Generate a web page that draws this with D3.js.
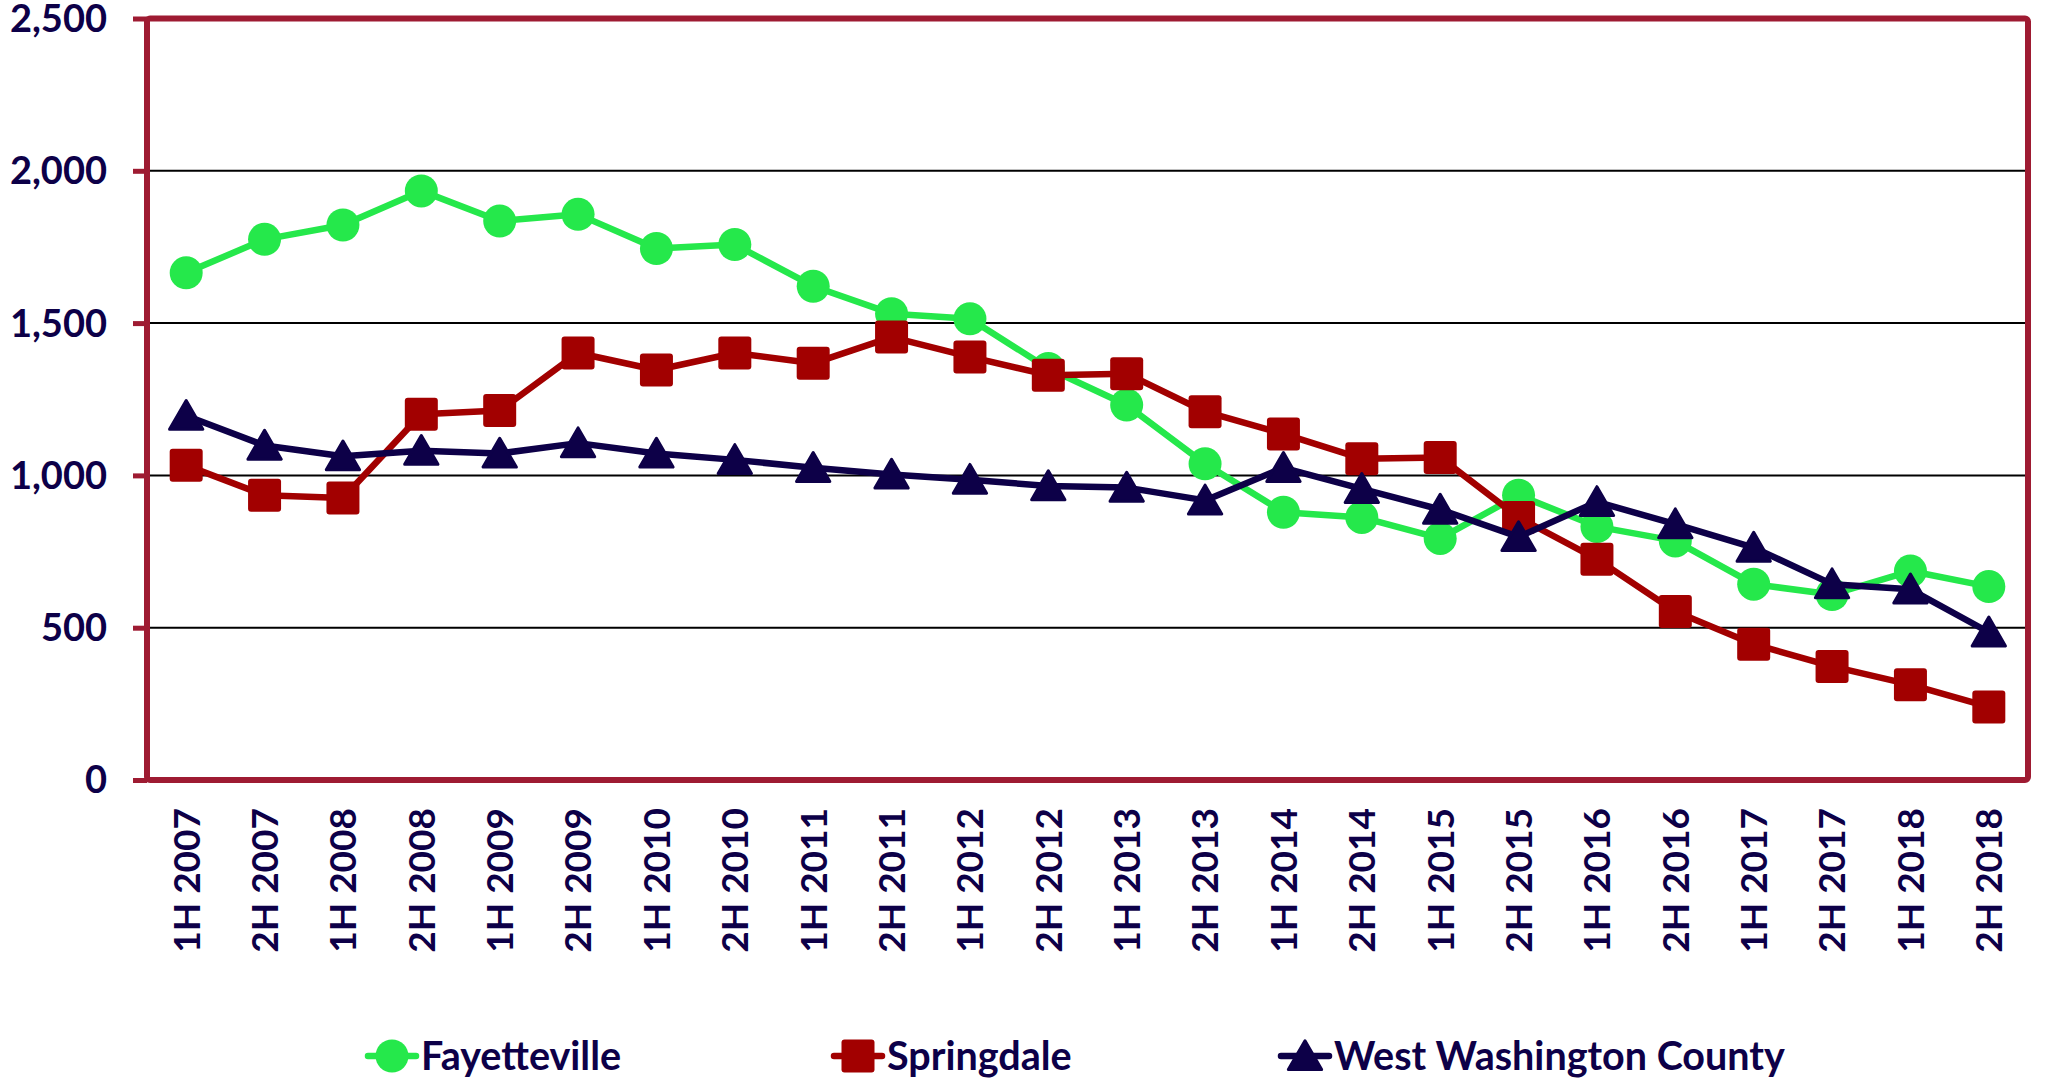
<!DOCTYPE html>
<html>
<head>
<meta charset="utf-8">
<script src="https://cdn.jsdelivr.net/npm/d3@7"></script>
<style>
  body { margin: 0; background: #fff; }
  text { font-family: Lato, "Open Sans", sans-serif; font-weight: 700; fill: #0d0048; }
</style>
</head>
<body>
<svg id="chart" width="2050" height="1088"></svg>
<script>
// half-year periods
var periods = ['1H 2007','2H 2007','1H 2008','2H 2008','1H 2009','2H 2009','1H 2010','2H 2010',
    '1H 2011','2H 2011','1H 2012','2H 2012','1H 2013','2H 2013','1H 2014','2H 2014',
    '1H 2015','2H 2015','1H 2016','2H 2016','1H 2017','2H 2017','1H 2018','2H 2018'];

var fayetteville = [1665,1775,1822,1934,1835,1857,1745,1758,1621,1531,1514,1351,
    1231,1038,879,862,793,935,832,785,643,609,686,635];

var springdale = [1033,935,926,1201,1213,1402,1346,1402,1368,1454,1389,1329,
    1334,1209,1136,1055,1059,862,725,553,446,373,313,240];

var westWashington = [1196,1098,1063,1081,1072,1106,1072,1051,1025,1003,986,965,
    960,918,1025,956,888,798,913,840,763,643,626,485];

var yTicks = [0,500,1000,1500,2000,2500];

var seriesNames = ['Fayetteville','Springdale','West Washington County'];

var svg = d3.select('#chart');

var plotL = 147, plotR = 2028, plotT = 18.5, plotB = 780;
var crimson = '#9e1b32';

var x = d3.scaleBand().domain(periods).range([plotL, plotR]);
var y = d3.scaleLinear().domain([0, 2500]).range([plotB, plotT]);

// gridlines
svg.selectAll('line.grid')
    .data(yTicks.filter(function(t) { return t > 0 && t < 2500; }))
    .enter()
    .append('line')
    .attr('class', 'grid')
    .attr('x1', plotL)
    .attr('x2', plotR)
    .attr('y1', function(d) { return y(d); })
    .attr('y2', function(d) { return y(d); })
    .style('stroke', '#000')
    .style('stroke-width', 2);

// y axis
var yAxis = d3.axisLeft(y)
    .tickValues(yTicks)
    .tickSize(14)
    .tickPadding(26)
    .tickFormat(d3.format(','));

var yg = svg.append('g')
    .attr('transform', 'translate(' + plotL + ',0)')
    .call(yAxis);
yg.select('.domain').remove();
yg.selectAll('.tick line').style('stroke', crimson).style('stroke-width', 5);
yg.selectAll('.tick text')
    .attr('dy', '0.34em')
    .style('font-size', '38px')
    .style('font-family', 'Lato, sans-serif')
    .style('font-weight', 700)
    .style('fill', '#0d0048');

// x labels, rotated
var xAxis = d3.axisBottom(x).tickSize(0).tickPadding(0);
var xg = svg.append('g')
    .attr('transform', 'translate(0,' + plotB + ')')
    .call(xAxis);
xg.select('.domain').remove();
xg.selectAll('.tick text')
    .attr('transform', 'rotate(-90)')
    .attr('x', -28)
    .attr('y', 0)
    .attr('dy', '0.36em')
    .style('text-anchor', 'end')
    .style('font-size', '37px')
    .style('font-family', 'Lato, sans-serif')
    .style('font-weight', 700)
    .style('fill', '#0d0048');

// plot border
svg.append('rect')
    .attr('x', plotL)
    .attr('y', plotT)
    .attr('width', plotR - plotL)
    .attr('height', plotB - plotT)
    .attr('rx', 3)
    .style('fill', 'none')
    .style('stroke', crimson)
    .style('stroke-width', 6);

var cx = function(d, i) { return x(periods[i]) + x.bandwidth() / 2; };

var series = [
    {name: seriesNames[0], values: fayetteville, color: '#25e84b', shape: 'circle'},
    {name: seriesNames[1], values: springdale, color: '#a20000', shape: 'square'},
    {name: seriesNames[2], values: westWashington, color: '#0d0048', shape: 'triangle'}
];

var line = d3.line()
    .x(function(d, i) { return cx(d, i); })
    .y(function(d) { return y(d); });

function drawMarker(g, shape, color) {
    if (shape == 'circle') {
        g.append('circle').attr('r', 16.5).style('fill', color);
    } else if (shape == 'square') {
        g.append('rect')
            .attr('x', -16.5).attr('y', -16.5)
            .attr('width', 33).attr('height', 33)
            .attr('rx', 3)
            .style('fill', color);
    } else {
        g.append('path')
            .attr('d', d3.symbol().type(d3.symbolTriangle).size(480)())
            .attr('transform', 'translate(0,4)')
            .style('fill', color)
            .style('stroke', color)
            .style('stroke-width', 3)
            .style('stroke-linejoin', 'round');
    }
}

series.forEach(function(s) {
    svg.append('path')
        .datum(s.values)
        .attr('d', line)
        .style('fill', 'none')
        .style('stroke', s.color)
        .style('stroke-width', 6.5)
        .style('stroke-linejoin', 'round');

    svg.append('g')
        .selectAll('g')
        .data(s.values)
        .enter()
        .append('g')
        .attr('transform', function(d, i) { return 'translate(' + cx(d, i) + ',' + y(d) + ')'; })
        .each(function() { drawMarker(d3.select(this), s.shape, s.color); });
});

// legend
var legendX = [392, 858, 1305];
var legendY = 1056;
series.forEach(function(s, i) {
    var g = svg.append('g').attr('transform', 'translate(' + legendX[i] + ',' + legendY + ')');
    g.append('line')
        .attr('x1', -24).attr('x2', 24)
        .attr('y1', 0).attr('y2', 0)
        .style('stroke', s.color)
        .style('stroke-width', 6.5)
        .style('stroke-linecap', 'round');
    drawMarker(g, s.shape, s.color);
    g.append('text')
        .attr('x', 29)
        .attr('y', 0)
        .attr('dy', '0.36em')
        .style('font-size', '39.5px')
        .text(s.name);
});
</script>
</body>
</html>
